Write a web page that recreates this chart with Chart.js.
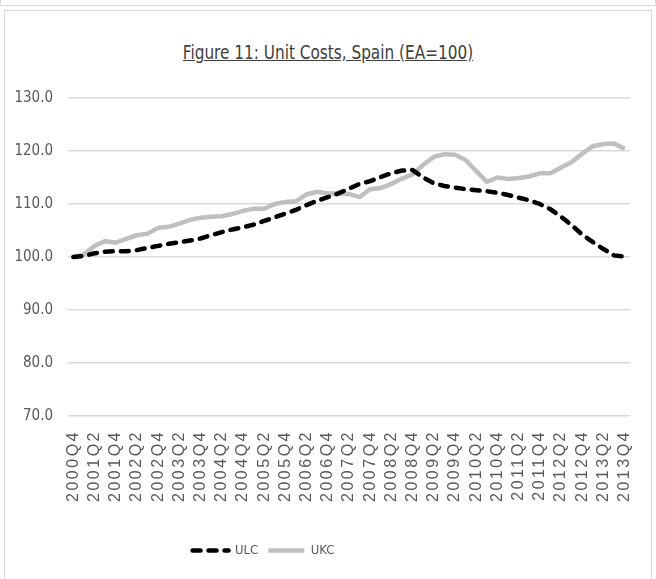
<!DOCTYPE html>
<html>
<head>
<meta charset="utf-8">
<script src="https://cdn.jsdelivr.net/npm/chart.js@4.4.1/dist/chart.umd.min.js"></script>
<style>
  body { margin: 0; background: #fff; width: 656px; height: 579px; overflow: hidden; position: relative; }
  #topbox { position: absolute; left: 0; top: -10px; width: 654px; height: 14px; border: 1px solid #d9d9d9; }
  #box { position: absolute; left: 4px; top: 10px; width: 646px; height: 575px; border: 1px solid #d9d9d9; }
  #title { position: absolute; left: 0; width: 100%; top: 30px; text-align: center;
           font-family: 'DejaVu Sans', sans-serif; font-size: 19px; font-stretch: condensed;
           transform: scaleX(0.895);
           color: #404040; text-decoration: underline; }
  canvas { position: absolute; left: 0; top: 0; }
</style>
</head>
<body>
<div id="topbox"></div>
<div id="box">
  <div id="title">Figure 11: Unit Costs, Spain (EA=100)</div>
  <canvas id="costChart" width="646" height="568"></canvas>
</div>
<script>
// quarters 2000Q4 .. 2013Q4
const quarters = [
  '2000Q4',
  '2001Q1', '2001Q2', '2001Q3', '2001Q4',
  '2002Q1', '2002Q2', '2002Q3', '2002Q4',
  '2003Q1', '2003Q2', '2003Q3', '2003Q4',
  '2004Q1', '2004Q2', '2004Q3', '2004Q4',
  '2005Q1', '2005Q2', '2005Q3', '2005Q4',
  '2006Q1', '2006Q2', '2006Q3', '2006Q4',
  '2007Q1', '2007Q2', '2007Q3', '2007Q4',
  '2008Q1', '2008Q2', '2008Q3', '2008Q4',
  '2009Q1', '2009Q2', '2009Q3', '2009Q4',
  '2010Q1', '2010Q2', '2010Q3', '2010Q4',
  '2011Q1', '2011Q2', '2011Q3', '2011Q4',
  '2012Q1', '2012Q2', '2012Q3', '2012Q4',
  '2013Q1', '2013Q2', '2013Q3', '2013Q4'
];

const ulc = [
  100.0,
  100.2, 100.7, 101.0, 101.1,
  101.1, 101.3, 101.7, 102.1,
  102.5, 102.8, 103.1, 103.5,
  104.1, 104.7, 105.2, 105.6,
  106.1, 106.8, 107.5, 108.2,
  108.9, 109.8, 110.6, 111.3,
  112.0, 112.9, 113.8, 114.3,
  115.1, 115.8, 116.3, 116.4,
  115.0, 113.9, 113.4, 113.1,
  112.8, 112.6, 112.4, 112.1,
  111.7, 111.2, 110.7, 110.0,
  109.0, 107.6, 106.0, 104.2,
  102.8, 101.5, 100.3, 100.1
];

const ukc = [
  100.0,
  100.5, 102.1, 103.0, 102.7,
  103.4, 104.1, 104.4, 105.5,
  105.7, 106.3, 107.0, 107.4,
  107.6, 107.7, 108.1, 108.7,
  109.1, 109.1, 110.0, 110.4,
  110.5, 111.8, 112.3, 112.0,
  112.0, 111.9, 111.3, 112.8,
  113.0, 113.8, 114.8, 115.6,
  117.4, 118.9, 119.4, 119.3,
  118.3, 116.2, 114.2, 115.0,
  114.7, 114.9, 115.2, 115.8,
  115.8, 116.9, 117.9, 119.5,
  120.9, 121.3, 121.4, 120.4
];

const yMin = 70;
const yMax = 130;
const yStep = 10;

const narrow = "'DejaVu Sans', sans-serif";

// x labels in the original are spaced out, so widen them a bit
const spacedTicks = {
  id: 'spacedTicks',
  afterLayout(chart) {
    const sc = chart.scales.x;
    if (!sc._spaced) {
      const orig = sc.drawLabels;
      sc.drawLabels = function (area) {
        this.ctx.save();
        this.ctx.letterSpacing = '2.5px';
        orig.call(this, area);
        this.ctx.restore();
      };
      sc._spaced = true;
    }
    // excel puts the legend a bit left of centre
    chart.legend.left -= 54;
    chart.legend.right -= 54;
  }
};

const ctx = document.getElementById('costChart').getContext('2d');
new Chart(ctx, {
  type: 'line',
  data: {
    labels: quarters,
    datasets: [{
      label: 'ULC',
      data: ulc,
      borderColor: '#000000',
      backgroundColor: '#000000',
      borderWidth: 4.5,
      borderDash: [8, 8],
      borderCapStyle: 'round',
      pointRadius: 0,
      tension: 0,
      fill: false
    }, {
      label: 'UKC',
      data: ukc,
      borderColor: '#bfbfbf',
      backgroundColor: '#bfbfbf',
      borderWidth: 4.5,
      pointRadius: 0,
      tension: 0,
      fill: false
    }]
  },
  options: {
    responsive: false,
    animation: false,
    layout: { padding: { top: 87, right: 21, bottom: 12, left: 0 } },
    plugins: {
      title: { display: false },
      tooltip: { enabled: false },
      legend: {
        position: 'bottom',
        labels: {
          usePointStyle: true,
          pointStyle: 'line',
          pointStyleWidth: 36,
          padding: 10,
          color: '#595959',
          font: { family: narrow, size: 13, weight: 'condensed' },
          // point style legend drops the dash, put it back
          generateLabels(chart) {
            const items = Chart.defaults.plugins.legend.labels.generateLabels(chart);
            items.forEach(item => {
              const ds = chart.data.datasets[item.datasetIndex];
              item.lineDash = ds.borderDash || [];
              item.lineCap = ds.borderCapStyle || 'butt';
            });
            return items;
          }
        }
      }
    },
    scales: {
      x: {
        offset: true,
        grid: { display: false, drawTicks: false },
        border: { display: false },
        ticks: {
          autoSkip: false,
          maxRotation: 90,
          minRotation: 90,
          padding: 14,
          color: '#595959',
          font: { family: "'Liberation Sans', Arial, sans-serif", size: 16 },
          callback: function (v, i) {
            return i % 2 === 0 ? this.getLabelForValue(v) : '';
          }
        },
        afterFit(axis) {
          axis.height = 118;
          axis.paddingLeft = 0;
          axis.paddingRight = 0;
        }
      },
      y: {
        min: yMin,
        max: yMax,
        grid: { color: '#d9d9d9', lineWidth: 1.5, drawTicks: false },
        border: { display: false },
        ticks: {
          stepSize: yStep,
          padding: 15,
          color: '#595959',
          font: { family: narrow, size: 15, weight: 'condensed' },
          callback: v => v.toFixed(1)
        },
        afterFit(axis) { axis.width = 63; }
      }
    }
  },
  plugins: [spacedTicks]
});
</script>
</body>
</html>
